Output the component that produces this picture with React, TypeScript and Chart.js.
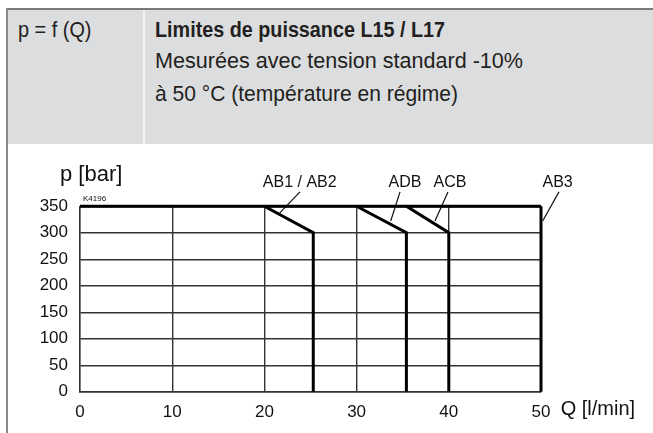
import React, { useEffect, useLayoutEffect, useRef } from "react";
import { Chart, registerables } from "chart.js";

Chart.register(...registerables);

// ---- data (Q in l/min, p in bar) ----
const xTickValues = [0, 10, 20, 30, 40, 50];
const xTickLabels = ["0", "10", "20", "30", "40", "50"];
const yTickValues = [0, 50, 100, 150, 200, 250, 300, 350];
const yTickLabels = ["0", "50", "100", "150", "200", "250", "300", "350"];

const limitTop = [{ x: 0, y: 350 }, { x: 50, y: 350 }];
const limitAB12 = [{ x: 20, y: 350 }, { x: 25.3, y: 300 }, { x: 25.3, y: 0 }];
const limitADB = [{ x: 30, y: 350 }, { x: 35.4, y: 300 }, { x: 35.4, y: 0 }];
const limitACB = [{ x: 35.4, y: 350 }, { x: 40, y: 300 }, { x: 40, y: 0 }];
const limitAB3 = [{ x: 50, y: 350 }, { x: 50, y: 0 }];

const curveNames = ["AB1 / AB2", "ADB", "ACB", "AB3"];
const labelAnchorQ = [23.83, 35.25, 40.13, 51.8];
const labelAnchorP = [394, 394, 394, 394];
const leaderAB12 = [{ x: 23.86, y: 377 }, { x: 21.62, y: 336.6 }];
const leaderADB = [{ x: 34.71, y: 377 }, { x: 33.7, y: 322 }];
const leaderACB = [{ x: 39.91, y: 377 }, { x: 38.5, y: 322 }];
const leaderAB3 = [{ x: 51.95, y: 377 }, { x: 50.18, y: 322 }];

const FONT = '"Liberation Sans", Arial, Helvetica, sans-serif';

type FitProps = { text: string; left: number; baseline: number; width: number; size: number; bold?: boolean };

function FitText({ text, left, baseline, width, size, bold }: FitProps) {
  const ref = useRef<HTMLSpanElement>(null);
  useLayoutEffect(() => {
    const el = ref.current;
    if (!el) return;
    el.style.transform = "none";
    const w = el.getBoundingClientRect().width;
    if (w > 0) el.style.transform = `scaleX(${width / w})`;
  }, [text, width]);
  return (
    <span
      ref={ref}
      style={{
        position: "absolute",
        left,
        top: baseline - size * 0.8465,
        fontSize: size,
        lineHeight: `${size}px`,
        fontFamily: FONT,
        fontWeight: bold ? 700 : 400,
        whiteSpace: "nowrap",
        transformOrigin: "left top",
        color: "#231f20",
        display: "inline-block",
      }}
    >
      {text}
    </span>
  );
}

const textPlugin = {
  id: "chartTexts",
  afterDraw(chart: any) {
    const { ctx, chartArea, scales } = chart;
    const xs = scales.x;
    const ys = scales.y;
    ctx.save();
    ctx.fillStyle = "#111";
    ctx.font = `16px ${FONT}`;
    ctx.textAlign = "center";
    ctx.textBaseline = "middle";
    curveNames.forEach((n, i) => {
      ctx.fillText(n, xs.getPixelForValue(labelAnchorQ[i]), ys.getPixelForValue(labelAnchorP[i]));
    });
    ctx.textAlign = "left";
    ctx.textBaseline = "alphabetic";
    ctx.font = `22px ${FONT}`;
    ctx.fillText("p [bar]", chartArea.left - 20, chartArea.top - 25.5);
    ctx.font = `8px ${FONT}`;
    ctx.fillText("K4196", chartArea.left + 3, chartArea.top - 5.7);
    ctx.font = `20px ${FONT}`;
    ctx.fillText("Q [l/min]", chartArea.right + 19.7, chartArea.bottom + 23.3);
    ctx.restore();
  },
};

function ChartCanvas() {
  const ref = useRef<HTMLCanvasElement>(null);
  useEffect(() => {
    const canvas = ref.current;
    if (!canvas) return;
    const thick = (data: any[]) => ({
      data,
      showLine: true,
      borderColor: "#000",
      borderWidth: 3,
      pointRadius: 0,
      borderJoinStyle: "miter" as const,
      clip: false as any,
    });
    const thin = (data: any[]) => ({
      data,
      showLine: true,
      borderColor: "#111",
      borderWidth: 1.2,
      pointRadius: 0,
      clip: false as any,
    });
    const chart = new Chart(canvas, {
      type: "scatter",
      data: {
        datasets: [
          thick(limitTop),
          thick(limitAB12),
          thick(limitADB),
          thick(limitACB),
          thick(limitAB3),
          thin(leaderAB12),
          thin(leaderADB),
          thin(leaderACB),
          thin(leaderAB3),
        ],
      },
      options: {
        responsive: false,
        animation: false,
        devicePixelRatio: 1,
        layout: { padding: { left: 0, right: 112, top: 56.2, bottom: 0 } },
        plugins: { legend: { display: false }, tooltip: { enabled: false } },
        scales: {
          x: {
            type: "linear",
            min: 0,
            max: 50,
            afterBuildTicks: (s: any) => {
              s.ticks = xTickValues.map((v) => ({ value: v }));
            },
            afterFit: (s: any) => {
              s.height = 41.3;
            },
            ticks: {
              callback: (_v: any, i: number) => xTickLabels[i],
              font: { family: FONT, size: 17 },
              color: "#111",
              padding: 10,
              maxRotation: 0,
            },
            grid: { color: "#333", lineWidth: 1.4, drawTicks: false },
            border: { display: true, color: "#333", width: 1.4 },
          },
          y: {
            type: "linear",
            min: 0,
            max: 350,
            afterBuildTicks: (s: any) => {
              s.ticks = yTickValues.map((v) => ({ value: v }));
            },
            afterFit: (s: any) => {
              s.width = 80;
            },
            ticks: {
              callback: (_v: any, i: number) => yTickLabels[i],
              font: { family: FONT, size: 17 },
              color: "#111",
              padding: 12,
            },
            grid: { color: "#333", lineWidth: 1.4, drawTicks: false },
            border: { display: true, color: "#333", width: 1.4 },
          },
        },
      },
      plugins: [textPlugin],
    });
    return () => chart.destroy();
  }, []);
  return (
    <canvas
      ref={ref}
      width={653}
      height={283}
      style={{ position: "absolute", left: 0, top: 150, width: 653, height: 283 }}
    />
  );
}

export default function App() {
  return (
    <div
      style={{
        position: "absolute",
        left: 0,
        top: 0,
        width: 653,
        height: 433,
        background: "#fff",
        overflow: "hidden",
      }}
    >
      <div style={{ position: "absolute", left: 8, top: 10, width: 645, height: 134, background: "#dcdddf" }} />
      <div style={{ position: "absolute", left: 6, top: 8, width: 647, height: 2, background: "#7b7b7b" }} />
      <div style={{ position: "absolute", left: 6, top: 8, width: 2, height: 425, background: "#8a8a8a" }} />
      <div style={{ position: "absolute", left: 142.5, top: 10, width: 2, height: 134, background: "#f5f5f5" }} />
      <FitText text="p = f (Q)" left={18.3} baseline={38.5} width={73.5} size={21.5} />
      <FitText text="Limites de puissance L15 / L17" left={155} baseline={38} width={290} size={21.5} bold />
      <FitText text="Mesurées avec tension standard -10%" left={155} baseline={69} width={368} size={22} />
      <FitText text="à 50 °C (température en régime)" left={155} baseline={102} width={303} size={22} />
      <ChartCanvas />
    </div>
  );
}
